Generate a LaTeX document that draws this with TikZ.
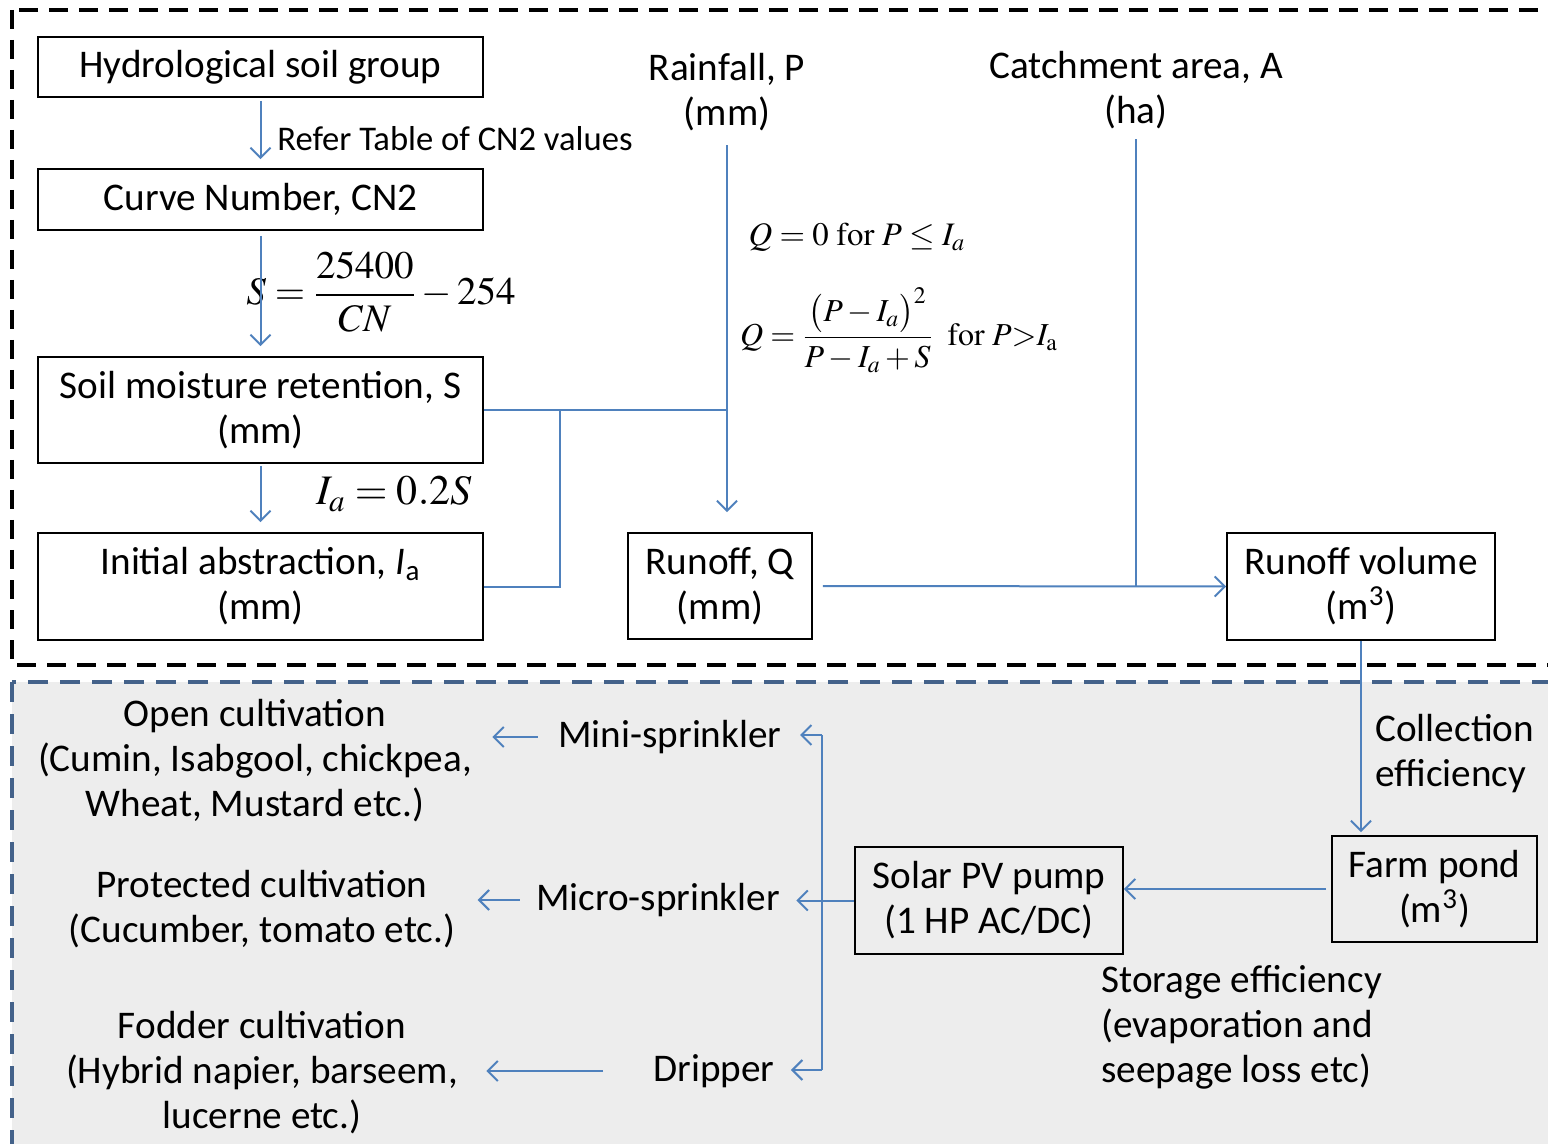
\documentclass[tikz,border=0pt]{standalone}
\usepackage{amsmath}
\usepackage{mathptmx}
\usepackage[no-math]{fontspec}
\setmainfont{Carlito}
\usetikzlibrary{arrows.meta}
\definecolor{arr}{RGB}{79,129,189}
\definecolor{bdash}{RGB}{68,98,138}
\newcommand\mainsz{\fontsize{19.6}{22.5}\selectfont}
\newcommand\smallsz{\fontsize{17.3}{20}\selectfont}
\tikzset{
 box/.style={draw=black, line width=0.9pt, align=center, inner sep=0pt, font=\mainsz},
 txt/.style={align=center, inner sep=0pt, font=\mainsz},
 conn/.style={draw=arr, line width=1pt},
 arrw/.style={conn, -{Straight Barb[length=5pt,width=10pt]}},
}
\begin{document}
\begin{tikzpicture}[x=0.5pt,y=-0.5pt]
\useasboundingbox (0,0) rectangle (1548,1144);
\clip (0,0) rectangle (1548,1144);
\fill[white] (0,0) rectangle (1548,1144);
\draw[fill=black!7, draw=bdash, line width=1.7pt, dash pattern=on 10pt off 6pt] (12,682) rectangle (1620,1220);
\draw[black, line width=1.8pt, dash pattern=on 9.5pt off 5.5pt] (12,10) rectangle (1620,665);

% boxes
\node[box, minimum width=222.5pt, minimum height=30pt] (hsg) at (260.5,67) {Hydrological soil group};
\node[box, minimum width=222.5pt, minimum height=30.5pt] (cn) at (260.5,199.5) {Curve Number, CN2};
\node[box, minimum width=222.5pt, minimum height=53pt] (smr) at (260.5,410) {Soil moisture retention, S\\(mm)};
\node[box, minimum width=222.5pt, minimum height=53.5pt] (ia) at (260.5,586.5) {Initial abstraction, \textit{I}\textsubscript{a}\\(mm)};
\node[box, minimum width=92pt, minimum height=53pt] (rq) at (720,586) {Runoff, Q\\(mm)};
\node[box, minimum width=134pt, minimum height=53.5pt] (rv) at (1361,586.5) {Runoff volume\\(m\textsuperscript{3})};
\node[box, minimum width=102.5pt, minimum height=53pt] (fp) at (1434.5,889) {Farm pond\\(m\textsuperscript{3})};
\node[box, minimum width=134pt, minimum height=53.5pt] (pv) at (989,900.5) {Solar PV pump\\(1 HP AC/DC)};

% texts
\node[txt] (rain) at (727,92) {Rainfall, P\\(mm)};
\node[txt] (catch) at (1136,90) {Catchment area, A\\(ha)};
\node[txt] (mini) at (670,737) {Mini-sprinkler};
\node[txt] (micro) at (658,900) {Micro-sprinkler};
\node[txt] (drip) at (714,1071) {Dripper};
\node[txt] (open) at (255,761) {Open cultivation\\(Cumin, Isabgool, chickpea,\\Wheat, Mustard etc.)};
\node[txt] (prot) at (262,909) {Protected cultivation\\(Cucumber, tomato etc.)};
\node[txt] (fod) at (262,1073) {Fodder cultivation\\(Hybrid napier, barseem,\\lucerne etc.)};
\node[txt, anchor=west, font=\smallsz] (refer) at (277,139) {Refer Table of CN2 values};
\node[txt, anchor=west, align=left] (coll) at (1375,754) {Collection\\efficiency};
\node[txt, anchor=west, align=left] (stor) at (1101,1027) {Storage efficiency\\(evaporation and\\seepage loss etc)};

% formulas
\node[inner sep=0pt, font=\fontsize{19.5}{23}\selectfont] (sf) at (381,292) {$S=\dfrac{25400}{CN}-254$};
\node[inner sep=0pt, font=\fontsize{21}{25}\selectfont] (iaf) at (394,494) {$I_a=0.2S$};
\node[inner sep=0pt, font=\fontsize{16.4}{19}\selectfont] (q1) at (857,237) {$Q=0\ \mathrm{for}\ P\le I_a$};
\node[inner sep=0pt, font=\fontsize{16}{19}\selectfont] (q2) at (899,330) {$Q=\dfrac{\bigl(P-I_a\bigr)^2}{P-I_a+S}\ \ \mathrm{for}\ P{>}I_{\mathrm{a}}$};

% connectors
\coordinate (j) at (727,410);
\coordinate (k) at (560,410);
\coordinate (m) at (1136,586);
\coordinate (s) at (822,900.5);
\coordinate (st) at (822,735);
\coordinate (sb) at (822,1070);
\draw[arrw, shorten <=1.5pt, shorten >=4.5pt] (hsg.south) -- (cn.north);
\draw[arrw, shorten <=2.5pt, shorten >=5pt] (cn.south) -- (smr.north);
\draw[arrw, shorten <=1pt, shorten >=5pt] (smr.south) -- (ia.north);
\draw[conn] (smr.east) -- (j);
\draw[conn] (ia.east) -| (k);
\draw[arrw, shorten <=7pt, shorten >=10pt] (rain.south) -- (rain.south |- rq.north);
\draw[conn, shorten <=5pt] (catch.south) -- (m);
\draw[arrw, shorten <=5pt] (rq.east) -- (rv.west);
\draw[arrw, shorten >=1.5pt] (rv.south) -- (rv.south |- fp.north);
\draw[arrw, shorten <=2.5pt] (fp.west) -- (pv.east |- fp.west);
\draw[conn] (pv.west) -- (s);
\draw[conn] (st) -- (sb);
\draw[arrw, shorten >=9pt] (st) -- (st -| mini.east);
\draw[arrw, shorten >=8pt] (s) -- (s -| micro.east);
\draw[arrw, shorten >=8pt] (sb) -- (sb -| drip.east);
\draw[arrw, shorten <=10pt, shorten >=10pt] (mini.west) -- (open.east |- mini.west);
\draw[arrw, shorten <=8pt, shorten >=11pt] (micro.west) -- (prot.east |- micro.west);
\draw[arrw, shorten <=25pt, shorten >=14pt] (drip.west) -- (fod.east |- drip.west);
\end{tikzpicture}
\end{document}
